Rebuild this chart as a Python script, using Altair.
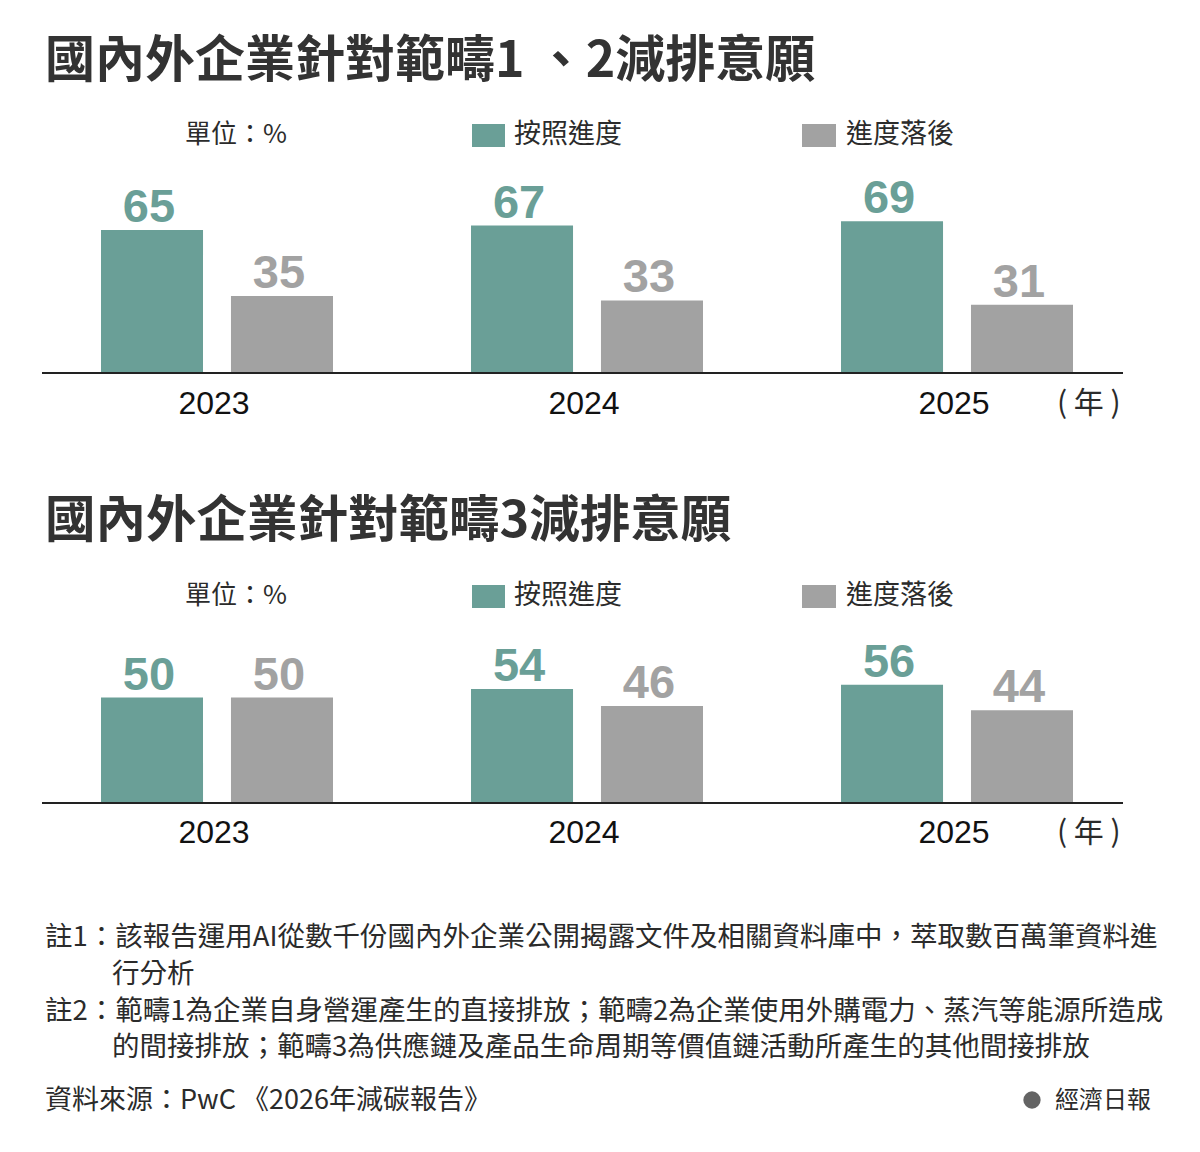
import altair as alt
import pandas as pd

# ---- data ----
years = ["2023", "2024", "2025"]
series = ["按照進度", "進度落後"]
scope12_on_track = [65, 67, 69]
scope12_behind = [35, 33, 31]
scope3_on_track = [50, 54, 56]
scope3_behind = [50, 46, 44]

title1 = "國內外企業針對範疇1 、2減排意願"
title2 = "國內外企業針對範疇3減排意願"
unit_text = "單位：%"
year_unit = "( 年 )"
note1a = "註1：該報告運用AI從數千份國內外企業公開揭露文件及相關資料庫中，萃取數百萬筆資料進"
note1b = "行分析"
note2a = "註2：範疇1為企業自身營運產生的直接排放；範疇2為企業使用外購電力、蒸汽等能源所造成"
note2b = "的間接排放；範疇3為供應鏈及產品生命周期等價值鏈活動所產生的其他間接排放"
source_text = "資料來源：PwC 《2026年減碳報告》"
brand_text = "經濟日報"


def long_df(on_track, behind):
    rows = []
    for y, a, b in zip(years, on_track, behind):
        rows.append({"year": y, "series": series[0], "value": a})
        rows.append({"year": y, "series": series[1], "value": b})
    return pd.DataFrame(rows)


df1 = long_df(scope12_on_track, scope12_behind)
df2 = long_df(scope3_on_track, scope3_behind)
df_years = pd.DataFrame({"year": years})

TEAL = "#6a9f97"
GRAY = "#a2a2a2"
CJK = "Noto Sans CJK TC"
NUM = "Liberation Sans Narrow, Liberation Sans, sans-serif"
LAT = "Liberation Sans, sans-serif"
DARK = "#2b2b2b"

xscale = alt.Scale(domain=years, range=[93, 1065], paddingInner=0.373, paddingOuter=0)
xoff = alt.Scale(domain=series, paddingInner=0.215, paddingOuter=0)
cscale = alt.Scale(domain=series, range=[TEAL, GRAY])


def panel(df, base, ppu):
    yscale = alt.Scale(domain=[0, 100], range=[base, base - 100 * ppu], zero=True, nice=False)
    enc = dict(
        x=alt.X("year:N", scale=xscale, axis=None),
        xOffset=alt.XOffset("series:N", scale=xoff),
        y=alt.Y("value:Q", scale=yscale, axis=None),
        color=alt.Color("series:N", scale=cscale, legend=None),
    )
    bars = alt.Chart(df).mark_bar().encode(**enc)
    labels = alt.Chart(df).mark_text(
        baseline="alphabetic", dy=-8, dx=-3, fontSize=47, fontWeight="bold", font=NUM
    ).encode(text="value:Q", **enc)
    return alt.layer(bars, labels)


def txt(s, x, y, size, weight="normal", color=DARK, font=CJK, align="left", baseline="middle"):
    return alt.Chart(alt.Data(values=[{}])).mark_text(
        text=s, x=x, y=y, fontSize=size, fontWeight=weight, color=color,
        font=font, align=align, baseline=baseline
    )


def rect(x, x2, y, y2, color):
    return alt.Chart(alt.Data(values=[{}])).mark_rect(color=color).encode(
        x=alt.value(x), x2=alt.value(x2), y=alt.value(y), y2=alt.value(y2)
    )


def rule(y):
    return alt.Chart(alt.Data(values=[{}])).mark_rule(color="#222222", strokeWidth=2).encode(
        x=alt.value(34), x2=alt.value(1115), y=alt.value(y)
    )


def year_labels(y):
    return alt.Chart(df_years).mark_text(
        fontSize=32, font=LAT, color="#111111", baseline="middle", dx=-3
    ).encode(x=alt.X("year:N", scale=xscale, axis=None), text="year:N", y=alt.value(y))


def legend_row(y):
    return [
        txt(unit_text, 177, y, 26),
        rect(464, 497, y - 11, y + 12, TEAL),
        txt(series[0], 506, y, 27),
        rect(794, 828, y - 11, y + 12, GRAY),
        txt(series[1], 838, y, 27),
    ]


layers = [
    panel(df1, 365, 2.2),
    panel(df2, 795, 2.11),
    txt(title1, 37, 54, 50, weight="bold", color="#333333"),
    txt(title2, 37, 514, 50.5, weight="bold", color="#333333"),
    *legend_row(127),
    *legend_row(588),
    rule(365),
    rule(795),
    year_labels(396),
    year_labels(825),
    txt(year_unit, 1049, 396, 30),
    txt(year_unit, 1049, 825, 30),
    txt(note1a, 37, 930, 27.5),
    txt(note1b, 104, 967, 27.5),
    txt(note2a, 37, 1004, 27.5),
    txt(note2b, 104, 1040, 27.5),
    txt(source_text, 37, 1093, 27),
    alt.Chart(alt.Data(values=[{}])).mark_point(
        shape="circle", filled=True, color="#222222", size=300
    ).encode(x=alt.value(1024), y=alt.value(1092)),
    txt(brand_text, 1047, 1093, 24),
]

chart = (
    alt.layer(*layers)
    .resolve_scale(y="independent")
    .properties(width=1184, height=1136, autosize=alt.AutoSizeParams(type="none"), padding=0,
                background="white")
    .configure_view(stroke=None)
)

chart.save("out.html", embed_options={"renderer": "svg", "actions": False})
